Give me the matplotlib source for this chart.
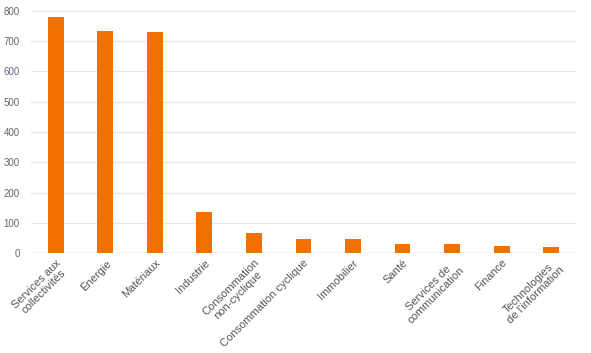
import matplotlib.pyplot as plt
import numpy as np

plt.rcParams['font.family'] = ['Liberation Sans', 'DejaVu Sans']

# secteurs et valeurs
secteurs = ["Services aux\ncollectivités", "Énergie", "Matériaux", "Industrie",
            "Consommation\nnon-cyclique", "Consommation cyclique", "Immobilier",
            "Santé", "Services de\ncommunication", "Finance",
            "Technologies\nde l'information"]
valeurs = [778, 733, 728, 136, 69, 47, 47, 30, 30, 25, 22]

fig = plt.figure(figsize=(5.91, 3.53), dpi=100)
ax = fig.add_axes([0.0525, 0.282, 0.922, 0.688])

x = np.arange(len(secteurs))
ax.bar(x, valeurs, width=0.32, color='#f07000', zorder=3)

ax.set_xlim(-0.5, len(secteurs) - 0.5)
ax.set_ylim(0, 800)
ax.set_yticks(np.arange(0, 801, 100))
ax.grid(axis='y', color='#e6e6ec', linewidth=0.9, zorder=0)
ax.set_axisbelow(True)

ax.set_xticks(x)
ax.set_xticklabels(secteurs, rotation=45, ha='right', rotation_mode='anchor',
                   fontsize=8, color='#555555', multialignment='center',
                   linespacing=1.05)
ax.tick_params(axis='x', length=0, pad=3)
ax.tick_params(axis='y', length=0, labelsize=7, labelcolor='#666677', pad=8)

for s in ax.spines.values():
    s.set_visible(False)
ax.axhline(0, color='#e0e0e6', linewidth=1, zorder=2)

fig.savefig('out.png', dpi=100)
